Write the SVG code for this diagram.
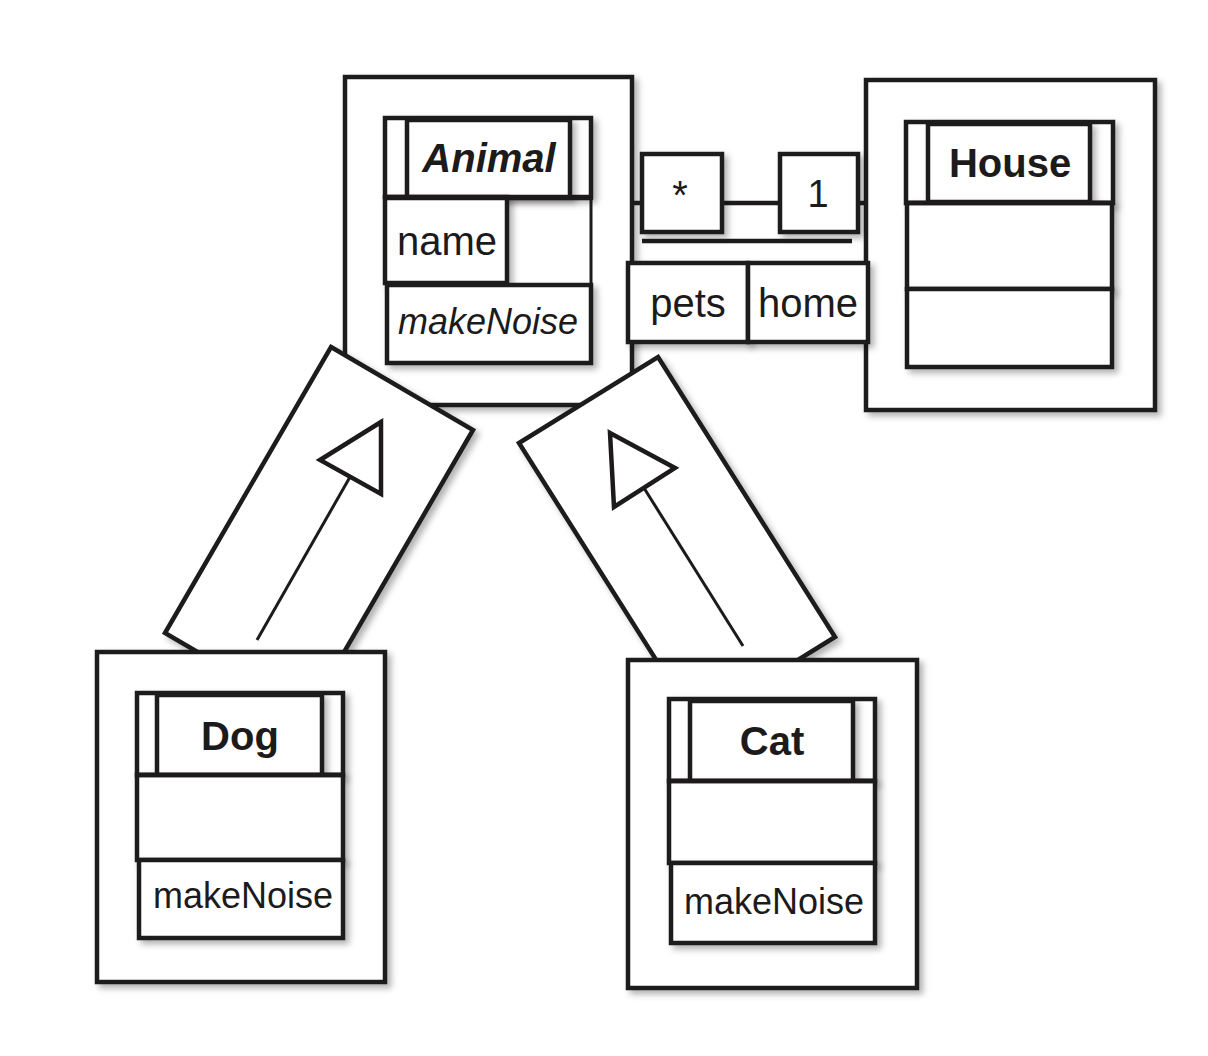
<svg xmlns="http://www.w3.org/2000/svg" width="1208" height="1056" viewBox="0 0 1208 1056">
<defs>
<filter id="sh" x="-10%" y="-10%" width="130%" height="130%">
<feDropShadow dx="4" dy="4" stdDeviation="3" flood-color="#000" flood-opacity="0.3"/>
</filter>
<style>
.box{fill:#fff;stroke:#1d1a1b;stroke-width:4.5;filter:url(#sh)}
.ln{fill:none;stroke:#1d1a1b;stroke-width:4.5}
.thin{fill:none;stroke:#1d1a1b;stroke-width:3}
.t{font-family:"Liberation Sans",Arial,sans-serif;fill:#1d1a1b;font-size:40px}
.b{font-weight:bold}
.i{font-style:italic}
.m{font-size:36px}
.c{text-anchor:middle}
</style>
</defs>
<rect width="1208" height="1056" fill="#fff"/>

<g id="node-animal">
<rect class="box" x="345" y="77" width="287" height="328"/>
<rect class="box" x="385" y="118" width="206" height="79"/>
<rect class="box" x="407" y="120" width="163" height="77"/>
<line class="thin" x1="591" y1="197" x2="591" y2="287" stroke="#555"/>
<rect class="box" x="385" y="197" width="122" height="86"/>
<rect class="box" x="387" y="285" width="204" height="78"/>
<line class="ln" x1="385" y1="198" x2="593" y2="198" stroke-width="5.5"/>
<text class="t b i c" x="489" y="172">Animal</text>
<text class="t" x="397" y="255">name</text>
<text class="t i m" x="398" y="334">makeNoise</text>
</g>

<g id="node-house">
<rect class="box" x="866" y="80" width="289" height="330"/>
<rect class="box" x="906" y="122" width="207" height="81"/>
<rect class="box" x="928" y="124" width="162" height="78"/>
<rect class="box" x="907" y="203" width="205" height="86"/>
<rect class="box" x="907" y="289" width="205" height="78"/>
<line class="ln" x1="905" y1="203" x2="1114" y2="203" stroke-width="5.5"/>
<text class="t b c" x="1010" y="177">House</text>
</g>

<g id="connectors">
<g id="assoc-animal-house">
<line class="ln" x1="632" y1="203" x2="642" y2="203" stroke-width="5"/>
<line class="ln" x1="722" y1="203" x2="780" y2="203" stroke-width="6.5"/>
<line class="ln" x1="858" y1="203" x2="866" y2="203" stroke-width="5"/>
<rect class="box" x="642" y="154" width="80" height="78"/>
<rect class="box" x="780" y="154" width="78" height="78"/>
<line class="ln" x1="642" y1="241" x2="852" y2="241" stroke-width="6"/>
<rect class="box" x="628" y="263" width="120" height="79"/>
<rect class="box" x="748" y="263" width="120" height="79"/>
<text class="t c" x="680" y="209">*</text>
<text class="t c" x="818" y="207" style="font-size:38px">1</text>
<text class="t c" x="688" y="317">pets</text>
<text class="t c" x="808" y="317">home</text>
</g>
<g id="gen-dog-animal">
<polygon class="box" points="331,347 473,430 307,716 165,633"/>
<line class="thin" x1="257" y1="640" x2="350" y2="477" stroke-width="3.5"/>
<polygon class="ln" points="381,422 320,460 381,494" stroke-width="3.5"/>
</g>
<g id="gen-cat-animal">
<polygon class="box" points="658,357 835,637 696,723 519,443"/>
<line class="thin" x1="743" y1="646" x2="644" y2="488" stroke-width="3.5"/>
<polygon class="ln" points="610,433 675,468 614,507" stroke-width="3.5"/>
</g>
</g>

<g id="node-dog">
<rect class="box" x="97" y="652" width="288" height="330"/>
<rect class="box" x="137" y="693" width="206" height="82"/>
<rect class="box" x="157" y="695" width="165" height="80"/>
<rect class="box" x="137" y="775" width="206" height="85"/>
<rect class="box" x="139" y="860" width="204" height="78"/>
<line class="ln" x1="137" y1="775" x2="343" y2="775" stroke-width="5.5"/>
<text class="t b c" x="240" y="750">Dog</text>
<text class="t m" x="153" y="908">makeNoise</text>
</g>

<g id="node-cat">
<rect class="box" x="628" y="660" width="289" height="328"/>
<rect class="box" x="669" y="699" width="206" height="82"/>
<rect class="box" x="690" y="701" width="163" height="80"/>
<rect class="box" x="669" y="781" width="206" height="82"/>
<rect class="box" x="671" y="863" width="204" height="80"/>
<line class="ln" x1="669" y1="781" x2="875" y2="781" stroke-width="5.5"/>
<text class="t b c" x="772" y="755">Cat</text>
<text class="t m" x="684" y="914">makeNoise</text>
</g>
</svg>
